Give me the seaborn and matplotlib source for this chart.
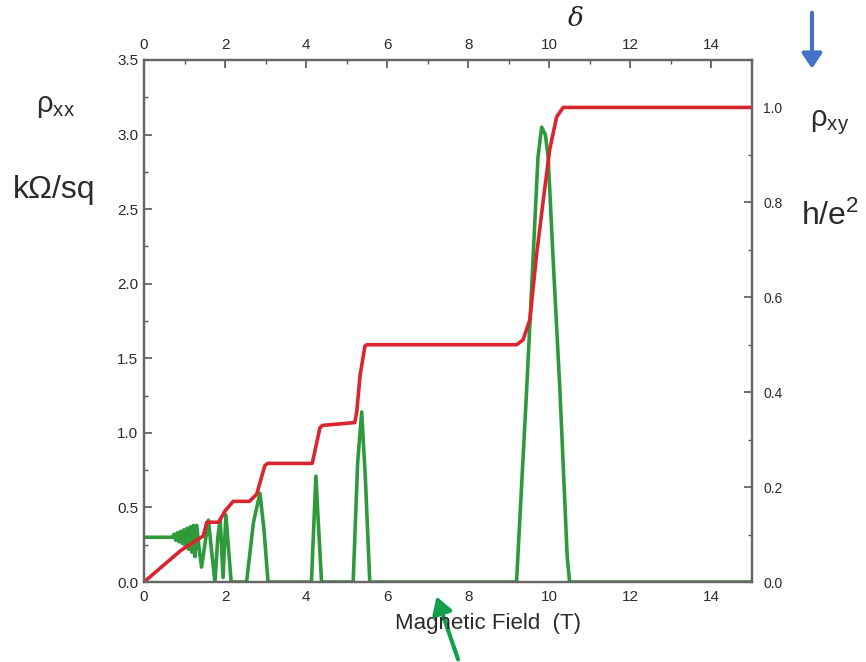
import numpy as np
import pandas as pd
import matplotlib
matplotlib.use("Agg")
import matplotlib.pyplot as plt
import seaborn as sns

# rho_xx (kOhm/sq)
field_xx = [0.0, 0.70, 0.74, 0.78, 0.82, 0.86, 0.90, 0.94, 0.98, 1.02, 1.06, 1.10,
            1.14, 1.18, 1.22, 1.26, 1.30, 1.36, 1.42, 1.50, 1.59, 1.67, 1.75, 1.82,
            1.88, 1.95, 2.02, 2.15, 2.53, 2.70, 2.86, 2.96, 3.06, 4.13, 4.20, 4.24,
            4.30, 4.38, 5.16, 5.27, 5.37, 5.46, 5.57, 9.19, 9.44, 9.60, 9.72, 9.81,
            9.90, 9.97, 10.09, 10.26, 10.44, 10.50, 15.0]
rho_xx = [0.30, 0.30, 0.32, 0.28, 0.33, 0.27, 0.34, 0.26, 0.35, 0.24, 0.36, 0.22,
          0.37, 0.20, 0.38, 0.17, 0.38, 0.22, 0.10, 0.25, 0.415, 0.20, 0.0, 0.30,
          0.42, 0.03, 0.45, 0.0, 0.0, 0.40, 0.595, 0.35, 0.0, 0.0, 0.45, 0.71,
          0.40, 0.0, 0.0, 0.80, 1.14, 0.70, 0.0, 0.0, 1.29, 2.18, 2.85, 3.05,
          3.00, 2.85, 2.18, 1.29, 0.17, 0.0, 0.0]

# rho_xy (h/e^2)
field_xy = [0.0, 0.90, 1.46, 1.55, 1.84, 2.00, 2.20, 2.60, 2.78, 2.98, 3.05, 4.15,
            4.34, 4.40, 5.20, 5.25, 5.33, 5.45, 5.50, 9.19, 9.35, 9.52, 9.68, 9.85,
            10.01, 10.18, 10.34, 10.45, 15.0]
rho_xy = [0.0, 0.066, 0.097, 0.126, 0.126, 0.15, 0.17, 0.17, 0.185, 0.245, 0.25, 0.25,
          0.325, 0.33, 0.336, 0.36, 0.435, 0.497, 0.50, 0.50, 0.51, 0.553, 0.686, 0.805,
          0.912, 0.98, 1.0, 1.0, 1.0]

x_ticks = [0, 2, 4, 6, 8, 10, 12, 14]
left_ticks = [0.0, 0.5, 1.0, 1.5, 2.0, 2.5, 3.0, 3.5]
right_ticks = [0.0, 0.2, 0.4, 0.6, 0.8, 1.0]

df_xx = pd.DataFrame({"B": field_xx, "rho": rho_xx})
df_xy = pd.DataFrame({"B": field_xy, "rho": rho_xy})

sns.set_style("white")
plt.rcParams['font.family'] = ['Liberation Sans', 'DejaVu Sans']
plt.rcParams['mathtext.default'] = 'regular'

fig = plt.figure(figsize=(8.66, 6.62), dpi=100)
ax = fig.add_axes([0.1663, 0.1208, 0.7021, 0.7886])
ax2 = ax.twinx()

green = '#2f9a3c'
red = '#d9262e'
txt = '#2b2b2b'

sns.lineplot(data=df_xx, x="B", y="rho", ax=ax, color=green, lw=2.6,
             sort=False, estimator=None)
sns.lineplot(data=df_xy, x="B", y="rho", ax=ax2, color=red, lw=2.6,
             sort=False, estimator=None)

ax.set_xlim(0, 15)
ax.set_ylim(0, 3.5)
ax2.set_ylim(0, 1.1)
ax.set_xlabel("")
ax.set_ylabel("")
ax2.set_ylabel("")

ax.set_xticks(x_ticks)
ax.set_xticks(np.arange(1, 15, 2), minor=True)
ax.set_yticks(left_ticks)
ax.set_yticks(np.arange(0.25, 3.5, 0.5), minor=True)
ax.set_yticklabels([f"{v:.1f}" for v in left_ticks])
ax2.set_yticks(right_ticks)
ax2.set_yticks(np.arange(0.1, 1.1, 0.2), minor=True)
ax2.set_yticklabels([f"{v:.1f}" for v in right_ticks])

ax.tick_params(axis='x', which='both', direction='in', top=True, labeltop=True,
               labelsize=11, colors='#555555', labelcolor=txt, pad=6)
ax.tick_params(axis='x', which='major', length=6, width=1.2)
ax.tick_params(axis='x', which='minor', length=3, width=1.0)
ax.tick_params(axis='y', which='both', direction='in', left=True, right=False,
               labelsize=11, colors='#555555', labelcolor=txt, pad=4)
ax.tick_params(axis='y', which='major', length=6, width=1.2)
ax.tick_params(axis='y', which='minor', length=3, width=1.0)
ax2.tick_params(axis='y', which='both', direction='in', right=True,
                labelsize=10, colors='#555555', labelcolor=txt, pad=8)
ax2.tick_params(axis='y', which='major', length=6, width=1.2)
ax2.tick_params(axis='y', which='minor', length=3, width=1.0)

for a in (ax, ax2):
    for s in a.spines.values():
        s.set_color('#666666')
        s.set_linewidth(1.6)

# axis captions
fig.text(0.064, 0.84, r'$\rho_{xx}$', fontsize=21, color=txt, ha='center', va='center')
fig.text(0.063, 0.713, 'kΩ/sq', fontsize=23, color=txt, ha='center', va='center')
fig.text(0.958, 0.815, r'$\rho_{xy}$', fontsize=21, color=txt, ha='center', va='center')
fig.text(0.925, 0.673, 'h/e$^2$', fontsize=23, color=txt, ha='left', va='center')
fig.text(0.563, 0.058, 'Magnetic Field  (T)', fontsize=16, color=txt,
         ha='center', va='center')

# glyph at the very top (kept fully inside the canvas)
fig.text(0.665, 0.972, 'δ', fontsize=19, color='#222222', family='DejaVu Serif',
         style='italic', ha='center', va='center')

# arrows
fig.patches.append(matplotlib.patches.FancyArrowPatch(
    (0.9376, 0.985), (0.9376, 0.892), transform=fig.transFigure,
    arrowstyle='-|>,head_length=9,head_width=6', lw=3, color='#4472c4'))
fig.patches.append(matplotlib.patches.FancyArrowPatch(
    (0.530, 0.0), (0.503, 0.103), transform=fig.transFigure,
    arrowstyle='-|>,head_length=10,head_width=6', lw=3, color='#12a04a'))

plt.savefig('out.png', dpi=100)
